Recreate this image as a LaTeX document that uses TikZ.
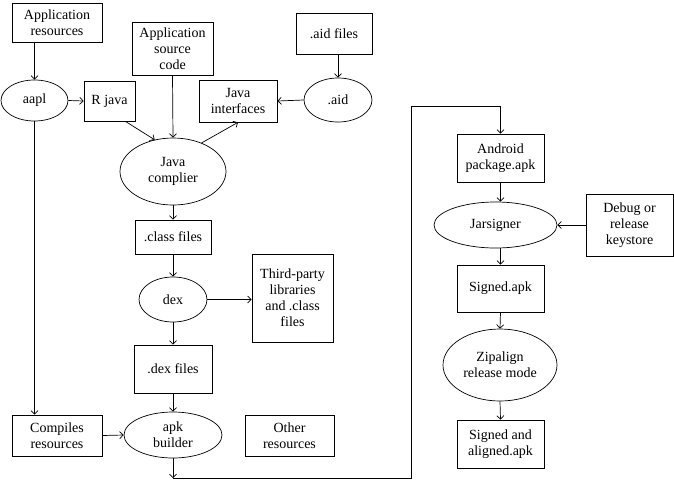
\documentclass[tikz,border=0pt]{standalone}
\usepackage{fontspec}
\setmainfont{Liberation Serif}
\usetikzlibrary{shapes.geometric,arrows.meta}
\tikzset{
  box/.style={draw, rectangle, align=center, inner sep=1pt, line width=0.7pt},
  ell/.style={draw, ellipse, align=center, inner sep=0pt, line width=0.7pt},
  arr/.style={-{Straight Barb[length=3.5pt,width=7pt]}, line width=0.7pt},
  wh/.style 2 args={minimum width=#1pt, minimum height=#2pt},
}
\begin{document}
\begin{tikzpicture}[x=1pt,y=-1pt,font=\fontsize{14}{16}\selectfont]
\useasboundingbox (0,0) rectangle (674,480);
% left part
\node[box,wh={90}{39}] (appres) at (57,22.5) {Application\\resources};
\node[box,wh={81}{53}] (appsrc) at (172.5,48.5) {Application\\source\\code};
\node[box,wh={76}{41}] (aidf) at (334,33.5) {.aid files};
\node[ell,wh={67}{41}] (aapl) at (34.5,100.5) {aapl};
\node[box,wh={51}{40}] (rjava) at (109.5,101) {R java};
\node[box,wh={78}{42}] (jint) at (238,101) {Java\\interfaces};
\node[ell,wh={68}{44}] (aid) at (338,100) {.aid};
\node[ell,wh={106}{67}] (jc) at (173,171.5) {Java\\complier};
\node[box,wh={76}{34}] (cls) at (173,237) {.class files};
\node[ell,wh={68}{45}] (dex) at (173,299.5) {dex};
\node[box,wh={81}{88}] (third) at (292.5,298) {Third-party\\libraries\\and .class\\files};
\node[box,wh={78}{48}] (dexf) at (173,369) {.dex files};
\node[box,wh={90}{41}] (comp) at (57,435.5) {Compiles\\resources};
\node[ell,wh={98}{46}] (apk) at (173,435) {apk\\builder};
\node[box,wh={89}{41}] (other) at (289.5,435.5) {Other\\resources};
% right part
\node[box,wh={87}{48}] (android) at (500.5,158) {Android\\package.apk};
\node[ell,wh={123}{46}] (jar) at (495.5,225) {Jarsigner};
\node[box,wh={87}{62}] (debug) at (629.5,225) {Debug or\\release\\keystore};
\node[box,wh={87}{47}] (signed) at (500.5,288.5) {Signed.apk};
\node[ell,wh={114}{72}] (zip) at (500,365) {Zipalign\\release mode};
\node[box,wh={87}{48}] (sa) at (500.5,444) {Signed and\\aligned.apk};
\coordinate (c1) at (173,478);
\coordinate (c2) at (411,478);
\coordinate (c3) at (411,106);
% connectors
\draw[arr] (aapl.north |- appres.south) -- (aapl.north);
\draw[arr] (aapl.east) -- (rjava.west);
\draw[arr] ([xshift=-10pt]rjava.south east) -- (jc.120);
\draw[arr] (appsrc.south) -- (jc.north);
\draw[arr] (jc.45) -- (jint.south);
\draw[arr] (aid.west) -- (jint.east);
\draw[arr] (aid.north |- aidf.south) -- (aid.north);
\draw[arr] (jc.south) -- (cls.north);
\draw[arr] (cls.south) -- (dex.north);
\draw[arr] (dex.east) -- (third.west |- dex.east);
\draw[arr] (dex.south) -- (dexf.north);
\draw[arr] (dexf.south) -- (apk.north);
\draw[arr] (aapl.south) -- (aapl.south |- comp.north);
\draw[arr] (comp.east) -- (apk.west);
\draw[arr] (apk.south) -- (c1);
\draw[arr] (c1) -- (c2) -- (c3) -| (android.north);
\draw[arr] (android.south) -- (android.south |- jar.north);
\draw[arr] (debug.west) -- (jar.east);
\draw[arr] (signed.north |- jar.south) -- (signed.north);
\draw[arr] (signed.south) -- (zip.north);
\draw[arr] (zip.south) -- (sa.north);
\end{tikzpicture}
\end{document}
